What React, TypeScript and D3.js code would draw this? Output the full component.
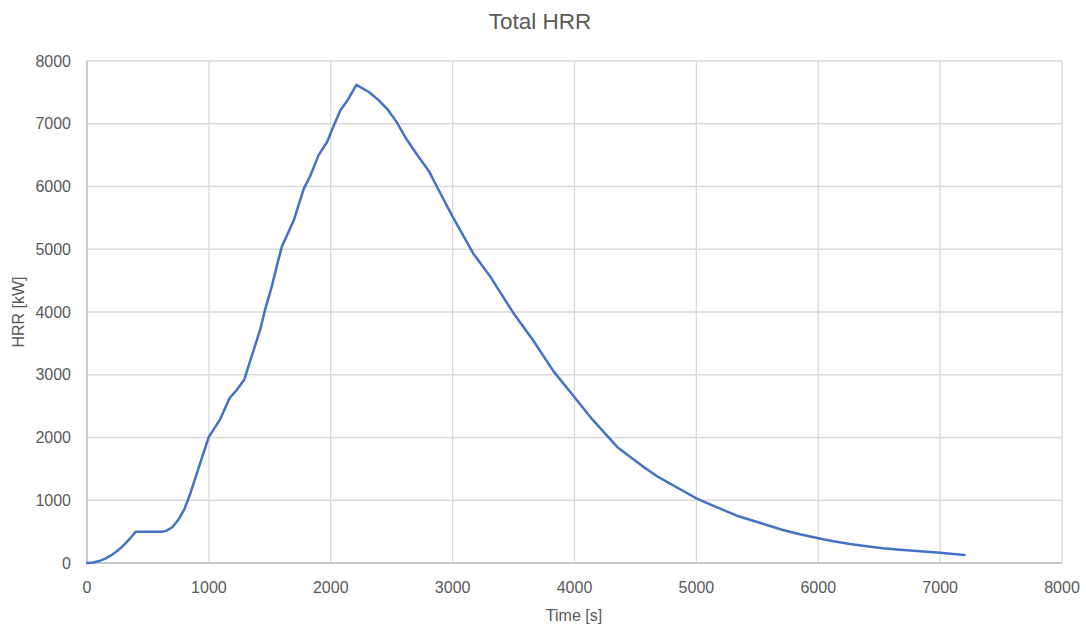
import React from "react";
import * as d3 from "d3";

const times: number[] = [0, 50, 100, 150, 200, 250, 300, 350, 400, 620, 650, 700, 750, 800, 850, 900, 950, 1000, 1090, 1170, 1230, 1290, 1340, 1420, 1460, 1515, 1570, 1600, 1650, 1700, 1750, 1780, 1830, 1900, 1970, 2020, 2080, 2140, 2210, 2310, 2390, 2470, 2540, 2610, 2700, 2810, 2870, 3000, 3170, 3310, 3500, 3660, 3830, 4000, 4150, 4350, 4455, 4560, 4674, 4780, 4893, 5000, 5112, 5220, 5331, 5440, 5577, 5710, 5850, 6000, 6124, 6260, 6398, 6530, 6671, 6810, 6918, 7000, 7109, 7200];
const hrr: number[] = [0, 8, 31, 70, 125, 195, 281, 383, 500, 500, 512, 570, 690, 860, 1120, 1420, 1720, 2010, 2280, 2630, 2760, 2920, 3230, 3710, 4030, 4400, 4830, 5050, 5260, 5480, 5790, 5970, 6160, 6500, 6710, 6950, 7220, 7380, 7620, 7510, 7380, 7220, 7030, 6790, 6530, 6230, 6000, 5520, 4930, 4560, 3980, 3550, 3050, 2640, 2280, 1850, 1694, 1540, 1386, 1270, 1147, 1030, 935, 845, 754, 690, 605, 526, 457, 395, 346, 303, 266, 234, 212, 191, 175, 164, 143, 127];

const xTicks: number[] = [0, 1000, 2000, 3000, 4000, 5000, 6000, 7000, 8000];
const yTicks: number[] = [0, 1000, 2000, 3000, 4000, 5000, 6000, 7000, 8000];

const title = "Total HRR";
const xLabel = "Time [s]";
const yLabel = "HRR [kW]";

export default function App() {
  const W = 1086, H = 629;
  const left = 87, right = 1062, top = 61, bottom = 563;
  const x = d3.scaleLinear().domain([0, 8000]).range([left, right]);
  const y = d3.scaleLinear().domain([0, 8000]).range([bottom, top]);
  const data = times.map((t, i) => [t, hrr[i]] as [number, number]);
  const line = d3.line<[number, number]>().x(d => x(d[0])).y(d => y(d[1]));
  const font = "Liberation Sans, Arial, sans-serif";
  const txt = "#595959";
  return (
    <div style={{ position: "fixed", left: 0, top: 0 }}>
      <svg width={W} height={H} style={{ display: "block", background: "#fff" }} fontFamily={font}>
        <rect width={W} height={H} fill="#fff" />
        {yTicks.map(v => (
          <line key={"gy" + v} x1={left} x2={right} y1={y(v)} y2={y(v)} stroke="#d9d9d9" strokeWidth={1.3} />
        ))}
        {xTicks.map(v => (
          <line key={"gx" + v} x1={x(v)} x2={x(v)} y1={top} y2={bottom} stroke="#d9d9d9" strokeWidth={1.3} />
        ))}
        <line x1={left} x2={left} y1={top} y2={bottom} stroke="#bfbfbf" strokeWidth={1.3} />
        <line x1={left} x2={right} y1={bottom} y2={bottom} stroke="#bfbfbf" strokeWidth={1.3} />
        {yTicks.map(v => (
          <text key={"ty" + v} x={71} y={y(v)} dy="0.35em" textAnchor="end" fontSize={16} fill={txt}>{v}</text>
        ))}
        {xTicks.map(v => (
          <text key={"tx" + v} x={x(v)} y={587.5} dy="0.35em" textAnchor="middle" fontSize={16} fill={txt}>{v}</text>
        ))}
        <path d={line(data) || ""} fill="none" stroke="#4472C4" strokeWidth={2.5} strokeLinejoin="round" strokeLinecap="round" />
        <text x={540} y={21} dy="0.35em" textAnchor="middle" fontSize={22.5} fill={txt}>{title}</text>
        <text x={574} y={615} dy="0.35em" textAnchor="middle" fontSize={16} fill={txt}>{xLabel}</text>
        <text transform={`translate(18,312) rotate(-90)`} dy="0.35em" textAnchor="middle" fontSize={16} fill={txt}>{yLabel}</text>
      </svg>
    </div>
  );
}
